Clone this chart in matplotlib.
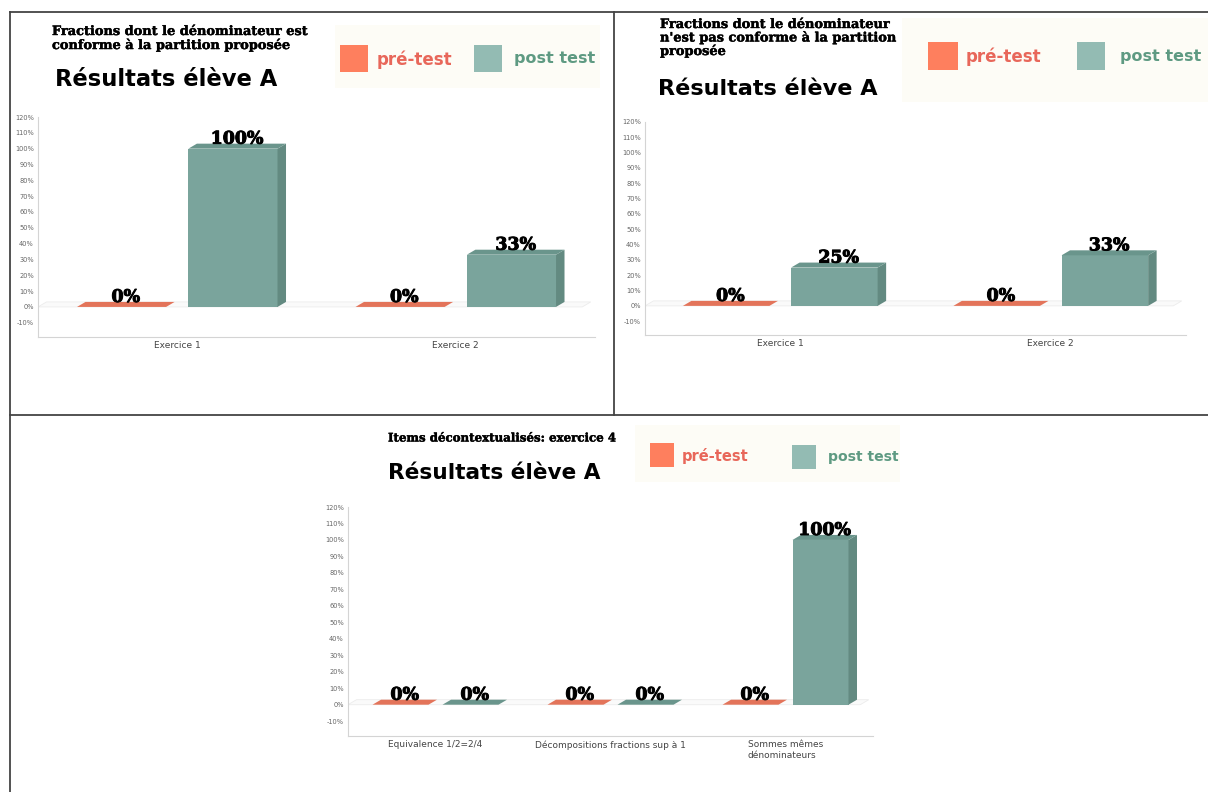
import matplotlib
matplotlib.use("Agg")
import matplotlib.pyplot as plt
import matplotlib.transforms as mtransforms
import matplotlib.patheffects as pe
from matplotlib.patches import Polygon, Rectangle
from matplotlib.lines import Line2D

W, H = 1208, 792

# Résultats élève A
cats_1 = ["Exercice 1", "Exercice 2"]
pre_1 = [0, 0]
post_1 = [100, 33]

cats_2 = ["Exercice 1", "Exercice 2"]
pre_2 = [0, 0]
post_2 = [25, 33]

cats_3 = ["Equivalence 1/2=2/4", "Décompositions fractions sup à 1",
          "Sommes mêmes\ndénominateurs"]
pre_3 = [0, 0, 0]
post_3 = [0, 0, 100]

title_1 = "Fractions dont le dénominateur est\nconforme à la partition proposée"
title_2 = "Fractions dont le dénominateur\nn'est pas conforme à la partition\nproposée"
title_3 = "Items décontextualisés: exercice 4"
subtitle = "Résultats élève A"
legend_labels = ["pré-test", "post test"]
yticks = list(range(-10, 121, 10))

# couleurs
PRE_FRONT, PRE_SIDE, PRE_TOP = "#e87c62", "#c8664f", "#e3745a"
POST_FRONT, POST_SIDE, POST_TOP = "#7aa49c", "#638a81", "#6a958c"
LEG_PRE, LEG_POST = "#fe7f5e", "#93bbb3"
TXT_PRE, TXT_POST = "#e8675a", "#5e9a82"

SERIF = "DejaVu Serif"
SANS = "DejaVu Sans"
heavy = [pe.withStroke(linewidth=0.7, foreground="black")]
heavy_small = [pe.withStroke(linewidth=0.3, foreground="black")]

fig = plt.figure(figsize=(W / 100, H / 100), dpi=100)
# pixel coordinates, origin top-left
px = mtransforms.Affine2D().scale(1 / W, -1 / H).translate(0, 1) + fig.transFigure


def px_axes(left, top, right, bottom):
    return fig.add_axes([left / W, 1 - bottom / H, (right - left) / W, (bottom - top) / H])


def bar3d(ax, x0, w, v, front, side, top, dx, dy):
    if v > 0:
        ax.add_patch(Rectangle((x0, 0), w, v, facecolor=front, edgecolor="none", zorder=2))
        ax.add_patch(Polygon([(x0 + w, 0), (x0 + w + dx, dy), (x0 + w + dx, v + dy), (x0 + w, v)],
                             facecolor=side, edgecolor="none", zorder=2))
    ax.add_patch(Polygon([(x0, v), (x0 + w, v), (x0 + w + dx, v + dy), (x0 + dx, v + dy)],
                         facecolor=top, edgecolor="none", zorder=2))


def chart(left, top, right, bottom, cats, pre, post, ylo=-19):
    ax = px_axes(left, top, right, bottom)
    n = len(cats)
    ax.set_xlim(-0.5, n - 0.5)
    ax.set_ylim(ylo, 120)
    dx = 8.5 * n / (right - left)
    dy = 5 * (120 - ylo) / (bottom - top)
    w = 0.32

    # sol
    ax.add_patch(Polygon([(-0.5, 0), (n - 0.5 - dx * 1.5, 0), (n - 0.5 - dx * 0.5, dy), (-0.5 + dx, dy)],
                         facecolor="#fafafa", edgecolor="#ececec", lw=0.6, zorder=1))

    for i in range(n):
        for v, off, cols in ((pre[i], -0.2, (PRE_FRONT, PRE_SIDE, PRE_TOP)),
                             (post[i], 0.2, (POST_FRONT, POST_SIDE, POST_TOP))):
            x0 = i + off - w / 2
            bar3d(ax, x0, w, v, *cols, dx, dy)
            ax.text(x0 + w / 2 + dx / 2, v + dy, f"{v}%", ha="center", va="baseline",
                    fontsize=12.5, family=SERIF, fontweight="bold", color="black", zorder=3,
                    path_effects=heavy)

    ax.set_xticks(range(n))
    ax.set_xticklabels(cats, fontsize=6.5, color="#444444")
    ax.set_yticks(yticks)
    ax.set_yticklabels([f"{t}%" for t in yticks], fontsize=4.8, color="#666666")
    ax.tick_params(length=0, pad=3)
    for s in ("top", "right"):
        ax.spines[s].set_visible(False)
    for s in ("left", "bottom"):
        ax.spines[s].set_color("#d4d4d4")
        ax.spines[s].set_linewidth(0.8)
    ax.patch.set_alpha(0)
    return ax


def legend(box, sq_pre, sq_post, t_pre, t_post, size):
    x0, y0, x1, y1 = box
    fig.patches.append(Rectangle((x0, y0), x1 - x0, y1 - y0, transform=px,
                                 facecolor="#fdfcf6", edgecolor="none", zorder=0))
    for (a, b, c, d), col in ((sq_pre, LEG_PRE), (sq_post, LEG_POST)):
        fig.patches.append(Rectangle((a, b), c - a, d - b, transform=px,
                                     facecolor=col, edgecolor="none", zorder=1))
    fig.text(t_pre[0], t_pre[1], legend_labels[0], transform=px, fontsize=size,
             family=SANS, fontweight="bold", color=TXT_PRE, va="center")
    fig.text(t_post[0], t_post[1], legend_labels[1], transform=px, fontsize=size * 0.96,
             family=SANS, fontweight="bold", color=TXT_POST, va="center")


# cadres
for xs, ys in (([10, 1208], [12, 12]), ([10, 10], [12, 792]),
               ([614, 614], [12, 415]), ([10, 1208], [415, 415])):
    fig.lines.append(Line2D(xs, ys, transform=px, color="#444444", lw=1.3))

# panneau 1
legend((335, 25, 600, 88), (340, 45, 368, 72), (474, 45, 502, 72), (377, 60), (514, 58), 12)
fig.text(52, 25, title_1, transform=px, fontsize=9.3, family=SERIF, fontweight="bold",
         va="top", linespacing=1.05, path_effects=heavy_small)
fig.text(55, 79, subtitle, transform=px, fontsize=16.3, family=SANS, fontweight="bold", va="center")
chart(38, 117, 595, 337, cats_1, pre_1, post_1)

# panneau 2
legend((902, 18, 1208, 102), (928, 42, 958, 70), (1077, 42, 1105, 70), (966, 57), (1120, 56), 12)
fig.text(660, 18, title_2, transform=px, fontsize=9.3, family=SERIF, fontweight="bold",
         va="top", linespacing=1.0, path_effects=heavy_small)
fig.text(658, 89, subtitle, transform=px, fontsize=16.1, family=SANS, fontweight="bold", va="center")
chart(645, 122, 1186, 335, cats_2, pre_2, post_2)

# panneau 3
legend((635, 425, 900, 482), (650, 443, 674, 467), (792, 445, 816, 469), (682, 456), (828, 457), 10.5)
fig.text(388, 438, title_3, transform=px, fontsize=8.5, family=SERIF, fontweight="bold", va="center",
         path_effects=heavy_small)
fig.text(388, 473, subtitle, transform=px, fontsize=15.6, family=SANS, fontweight="bold", va="center")
ax3 = chart(348, 507, 873, 736, cats_3, pre_3, post_3)
ax3.get_xticklabels()[2].set_multialignment("left")

fig.savefig("out.png", dpi=100)
